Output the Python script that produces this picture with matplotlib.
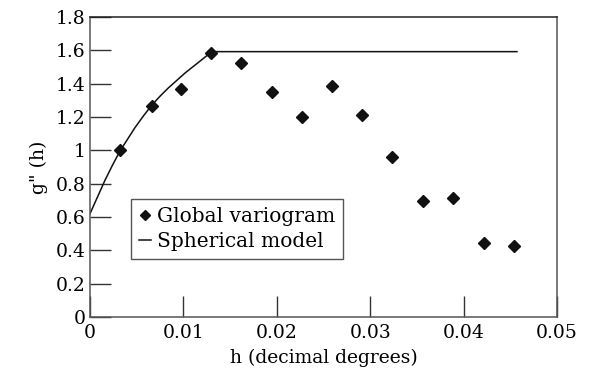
import matplotlib
matplotlib.use('Agg')
import matplotlib.pyplot as plt

h_obs = [0.00321, 0.00664, 0.00974, 0.01296, 0.01617, 0.01945, 0.0227,
         0.02594, 0.02915, 0.03237, 0.03562, 0.03883, 0.04215, 0.04536]
g_obs = [1.002, 1.266, 1.366, 1.582, 1.526, 1.348, 1.198,
         1.386, 1.21, 0.96, 0.698, 0.712, 0.444, 0.424]

# spherical model line
h_mod = [0.0, 0.0008, 0.0016, 0.0024, 0.0032, 0.0040, 0.0048, 0.0057, 0.0066,
         0.0075, 0.0084, 0.0093, 0.0102, 0.0111, 0.0120, 0.0126, 0.0131, 0.0457]
g_mod = [0.62, 0.72, 0.82, 0.91, 0.995, 1.065, 1.135, 1.205, 1.27,
         1.325, 1.375, 1.42, 1.465, 1.505, 1.545, 1.572, 1.592, 1.592]

xticks = [0, 0.01, 0.02, 0.03, 0.04, 0.05]
xticklabels = ['0', '0.01', '0.02', '0.03', '0.04', '0.05']
yticks = [0, 0.2, 0.4, 0.6, 0.8, 1, 1.2, 1.4, 1.6, 1.8]
yticklabels = ['0', '0.2', '0.4', '0.6', '0.8', '1', '1.2', '1.4', '1.6', '1.8']

plt.rcParams['font.family'] = ['DejaVu Serif']

fig = plt.figure(figsize=(5.89, 3.77), dpi=100)
ax = fig.add_axes([0.1528, 0.159, 0.793, 0.796])

ax.plot(h_obs, g_obs, 'D', color='#111111', markersize=6.5, label='Global variogram')
ax.plot(h_mod, g_mod, '-', color='#111111', linewidth=1.1, label='Spherical model')

ax.set_xlim(0, 0.05)
ax.set_ylim(0, 1.8)
ax.set_xticks(xticks)
ax.set_xticklabels(xticklabels)
ax.set_yticks(yticks)
ax.set_yticklabels(yticklabels)
ax.tick_params(direction='in', length=15, width=1, labelsize=13.5, color='#333333',
               top=False, right=False)
ax.tick_params(axis='x', pad=5)
ax.tick_params(axis='y', pad=3)

for side in ['left', 'bottom', 'right']:
    ax.spines[side].set_color('#555555')
ax.spines['top'].set_color('#222222')
for s in ax.spines.values():
    s.set_linewidth(1.1)

ax.set_xlabel('h (decimal degrees)', fontsize=13.5, labelpad=5)
ax.set_ylabel('g" (h)', fontsize=13.5, labelpad=6)

leg = ax.legend(loc='lower left', bbox_to_anchor=(0.087, 0.193), borderaxespad=0,
                fancybox=False, edgecolor='#555555', framealpha=1, fontsize=14.5,
                handlelength=0.6, handletextpad=0.3, borderpad=0.4, labelspacing=0.3,
                markerscale=0.8)
leg.get_frame().set_linewidth(1.0)

fig.savefig('out.png', dpi=100)
